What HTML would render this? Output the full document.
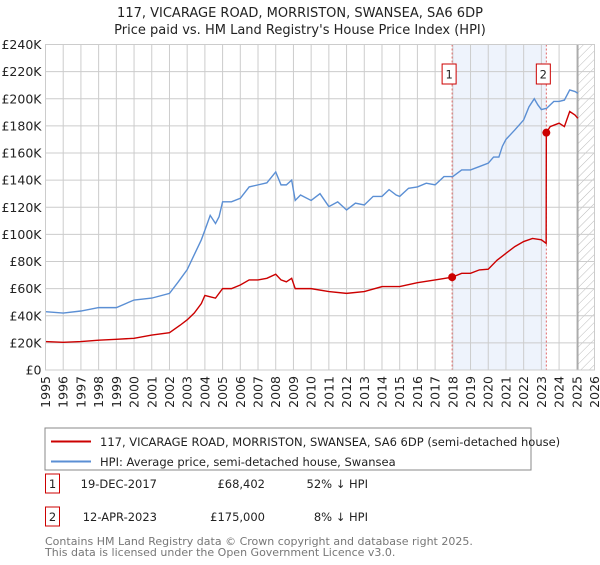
<!DOCTYPE html>
<html><head><meta charset="utf-8"><style>
body{margin:0;background:#fff;width:600px;height:560px;overflow:hidden;font-family:"Liberation Sans","DejaVu Sans",sans-serif;}
svg text{font-family:"DejaVu Sans","Liberation Sans",sans-serif;}
</style></head><body>
<svg id="chart" width="600" height="560" viewBox="0 0 600 560">
<defs><pattern id="hatch" width="6" height="6" patternUnits="userSpaceOnUse" patternTransform="rotate(45)"><line x1="0" y1="0" x2="0" y2="6" stroke="#bbb" stroke-width="1"/></pattern></defs>
<text x="300" y="17" text-anchor="middle" font-size="13" fill="#222">117, VICARAGE ROAD, MORRISTON, SWANSEA, SA6 6DP</text>
<text x="300" y="34" text-anchor="middle" font-size="13" fill="#222">Price paid vs. HM Land Registry's House Price Index (HPI)</text>
<g id="grid"></g><g id="marks"></g><g id="axes"></g>
<rect x="45" y="428" width="486" height="42" fill="#fff" stroke="#888"/>
<line x1="51" y1="441.5" x2="91" y2="441.5" stroke="#cc0000" stroke-width="2"/>
<text x="100" y="446" font-size="11.5" fill="#222">117, VICARAGE ROAD, MORRISTON, SWANSEA, SA6 6DP (semi-detached house)</text>
<line x1="51" y1="461.5" x2="91" y2="461.5" stroke="#5b8fd4" stroke-width="2"/>
<text x="100" y="466" font-size="11.5" fill="#222">HPI: Average price, semi-detached house, Swansea</text>
<g font-size="11.5" fill="#222">
<rect x="45.5" y="474" width="14" height="19" fill="#fff" stroke="#cc0000"/><text x="52.5" y="488" text-anchor="middle">1</text>
<text x="157" y="488" text-anchor="end">19-DEC-2017</text><text x="265" y="488" text-anchor="end">£68,402</text><text x="368" y="488" text-anchor="end">52% ↓ HPI</text></g>
<g font-size="11.5" fill="#222">
<rect x="45.5" y="507" width="14" height="19" fill="#fff" stroke="#cc0000"/><text x="52.5" y="521" text-anchor="middle">2</text>
<text x="157" y="521" text-anchor="end">12-APR-2023</text><text x="265" y="521" text-anchor="end">£175,000</text><text x="368" y="521" text-anchor="end">8% ↓ HPI</text></g>
<text x="45" y="545" font-size="11" fill="#777">Contains HM Land Registry data © Crown copyright and database right 2025.</text>
<text x="45" y="556" font-size="11" fill="#777">This data is licensed under the Open Government Licence v3.0.</text>
</svg>
<script>
const hpiYears=[1995,1996,1997,1998,1999,2000,2001,2002,2002.5,2003,2003.4,2003.8,2004,2004.3,2004.6,2004.8,2005,2005.5,2006,2006.5,2007,2007.5,2008,2008.3,2008.6,2008.9,2009.1,2009.4,2010,2010.5,2011,2011.5,2012,2012.5,2013,2013.5,2014,2014.4,2014.8,2015,2015.5,2016,2016.5,2017,2017.5,2018,2018.5,2019,2019.5,2020,2020.3,2020.6,2020.8,2021,2021.5,2022,2022.3,2022.6,2022.8,2023,2023.3,2023.7,2024,2024.3,2024.6,2024.9,2025.06];
const hpiValues=[43,42,43.5,46,46,51.6,53,56.5,65,74,85,96,103,114,108,113,124,124,126.6,135,136.5,138,146,136.5,136.5,140,125,129,125,130,120.5,124,118,123,121.7,128,128,133,129,128,134,135,137.7,136.5,142.6,142.6,147.5,147.5,150,152.5,157,157,165,170,177,184.4,194,200,195.5,192,193,198,198,199,206.5,205.3,204];
const priceYears=[1995,1996,1997,1998,1999,2000,2001,2002,2002.6,2003,2003.4,2003.8,2004,2004.3,2004.6,2005,2005.5,2006,2006.5,2007,2007.5,2008,2008.3,2008.6,2008.9,2009.1,2010,2011,2012,2013,2014,2015,2016,2017,2017.96,2018.5,2019,2019.5,2020,2020.5,2021,2021.5,2022,2022.5,2023,2023.27,2023.28,2023.5,2024,2024.3,2024.6,2024.9,2025.06];
const priceValues=[21,20.4,21,22,22.6,23.4,25.8,27.5,33,37,42,49,55,54,53,60,60,62.7,66.4,66.4,67.6,70.6,66.4,65,67.6,60,60,57.8,56.5,57.8,61.5,61.5,64.4,66.4,68.4,71.3,71.3,73.8,74.3,81,86,91,94.7,97,96,93.4,175,179.5,182,179.5,190.6,188,185.6];
const saleYears=[2017.96,2023.28];
const saleValues=[68.402,175];
const saleLabels=['1','2'];
const yTicks=[0,20,40,60,80,100,120,140,160,180,200,220,240];
const xTicks=[1995,1996,1997,1998,1999,2000,2001,2002,2003,2004,2005,2006,2007,2008,2009,2010,2011,2012,2013,2014,2015,2016,2017,2018,2019,2020,2021,2022,2023,2024,2025,2026];
const L=45.5,R=594.5,T=44.5,B=370;
const x=v=>L+(v-1995)/31*(R-L);
const y=v=>B-v/240*(B-T);
const NS='http://www.w3.org/2000/svg';
function mk(tag,attrs,parent){const e=document.createElementNS(NS,tag);for(const k in attrs)e.setAttribute(k,attrs[k]);parent.appendChild(e);return e;}
const grid=document.getElementById('grid'),marks=document.getElementById('marks'),axes=document.getElementById('axes');
let band=mk('rect',{x:x(saleYears[0]),y:T,width:x(saleYears[1])-x(saleYears[0]),height:B-T,fill:'#eef3fc'},grid);


let hat=mk('rect',{x:x(2025.06),y:T,width:R-x(2025.06),height:B-T,fill:'url(#hatch)'},grid);


yTicks.forEach(v=>{
 let g=mk('line',{x1:L,x2:R,y1:y(v),y2:y(v),stroke:'#cccccc','stroke-width':1},grid);
 
 
 let t=mk('text',{x:L-4,y:y(v)+4.5,'text-anchor':'end','font-size':'12.5',fill:'#222'},axes);
 t.textContent=v===0?'£0':'£'+v+'K';
 
 
});
xTicks.forEach(v=>{
 let g=mk('line',{x1:x(v),x2:x(v),y1:T,y2:B,stroke:'#cccccc','stroke-width':1},grid);
 
 
 let t=mk('text',{transform:`translate(${x(v)+4.5},${B+6}) rotate(-90)`,'text-anchor':'end','font-size':'12.5',fill:'#222'},axes);
 t.textContent=v;
 
 
});
let endl=mk('line',{x1:x(2025.06),x2:x(2025.06),y1:T,y2:B,stroke:'#999','stroke-width':1.2},grid);


saleYears.forEach((s,i)=>{
 let d=mk('line',{x1:x(s),x2:x(s),y1:T,y2:B,stroke:'#e06666','stroke-width':1,'stroke-dasharray':'2,2'},grid);
 
 
});
let hp=mk('polyline',{points:hpiYears.map((v,i)=>x(v)+','+y(hpiValues[i])).join(' '),fill:'none',stroke:'#5b8fd4','stroke-width':1.4},marks);


let pp=mk('polyline',{points:priceYears.map((v,i)=>x(v)+','+y(priceValues[i])).join(' '),fill:'none',stroke:'#cc0000','stroke-width':1.4},marks);


saleYears.forEach((s,i)=>{
 let c=mk('circle',{cx:x(s),cy:y(saleValues[i]),r:4,fill:'#cc0000'},marks);
 
 
 let b=mk('rect',{x:x(s)-10,y:64,width:14,height:20,fill:'#fff',stroke:'#cc0000'},marks);
 
 
 let t=mk('text',{x:x(s)-3,y:78.5,'text-anchor':'middle','font-size':'11.5',fill:'#222'},marks);
 t.textContent=saleLabels[i];
 
 
});
let fr=mk('rect',{x:L,y:T,width:R-L,height:B-T,fill:'none',stroke:'#cccccc'},marks);


</script>
</body></html>
